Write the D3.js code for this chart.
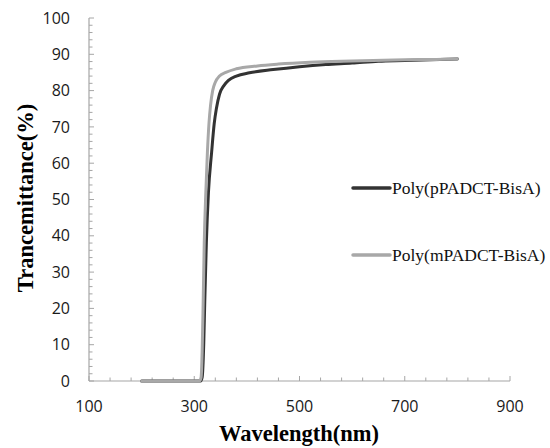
<!DOCTYPE html>
<html>
<head>
<meta charset="utf-8">
<script src="https://cdn.jsdelivr.net/npm/d3@7"></script>
<style>
  body { margin: 0; background: #fff; }
  svg { display: block; }
</style>
</head>
<body>
<svg width="550" height="448"></svg>
<script>
// transmittance spectra
var seriesNames = ["Poly(pPADCT-BisA)", "Poly(mPADCT-BisA)"];
var seriesColors = ["#333333", "#a8a8a8"];

var pWave = [200, 250, 300, 312, 315, 318, 320, 323, 327, 333, 338, 342, 348, 356, 365, 380, 405, 450, 500, 550, 600, 650, 700, 750, 800];
var pTrans = [0, 0, 0, 0, 1, 10, 22, 38, 52, 63, 71, 75, 79, 81.3, 82.8, 84, 84.9, 85.8, 86.6, 87.2, 87.6, 88.1, 88.3, 88.5, 88.7];

var mWave = [200, 250, 300, 310, 313, 315, 317, 319, 322, 325, 328, 331, 335, 340, 348, 360, 380, 420, 460, 520, 580, 640, 700, 760, 800];
var mTrans = [0, 0, 0, 0, 1, 8, 22, 38, 52, 63, 71, 76, 80, 82.3, 84, 85, 86, 86.8, 87.3, 87.8, 88.1, 88.3, 88.5, 88.6, 88.7];

var xTicks = [100, 300, 500, 700, 900];
var yTicks = [0, 10, 20, 30, 40, 50, 60, 70, 80, 90, 100];

var svg = d3.select("svg");
var plotL = 89, plotR = 510, plotT = 18, plotB = 381;

var x = d3.scaleLinear().domain([100, 900]).range([plotL, plotR]);
var y = d3.scaleLinear().domain([0, 100]).range([plotB, plotT]);

var axisColor = "#a6a6a6";
var g = svg.append("g");

// minor ticks (inside)
g.selectAll(".xminor").data(d3.range(100, 901, 40)).enter().append("line")
    .attr("x1", function(d) { return x(d); }).attr("x2", function(d) { return x(d); })
    .attr("y1", plotB).attr("y2", function(d) { return xTicks.indexOf(d) >= 0 ? plotB - 5 : plotB - 3.5; })
    .attr("stroke", axisColor);
g.selectAll(".yminor").data(d3.range(0, 101, 2)).enter().append("line")
    .attr("y1", function(d) { return y(d); }).attr("y2", function(d) { return y(d); })
    .attr("x1", plotL).attr("x2", function(d) { return d % 10 === 0 ? plotL + 5 : plotL + 3.5; })
    .attr("stroke", axisColor);

// axis lines
g.append("line").attr("x1", plotL).attr("x2", plotL).attr("y1", y(100)).attr("y2", plotB)
    .attr("stroke", axisColor).attr("stroke-width", 1.2);
g.append("line").attr("x1", plotL).attr("x2", plotR).attr("y1", plotB).attr("y2", plotB)
    .attr("stroke", axisColor).attr("stroke-width", 1.2);

// tick labels
svg.selectAll(".ylab").data(yTicks).enter().append("text")
    .attr("x", 70).attr("y", function(d) { return y(d); })
    .attr("dy", "0.35em").attr("text-anchor", "end")
    .style("font", "16px 'Open Sans', sans-serif").attr("fill", "#1a1a1a")
    .text(function(d) { return d; });
svg.selectAll(".xlab").data(xTicks).enter().append("text")
    .attr("x", function(d) { return x(d); }).attr("y", 406)
    .attr("dy", "0.35em").attr("text-anchor", "middle")
    .style("font", "16px 'Open Sans', sans-serif").attr("fill", "#1a1a1a")
    .text(function(d) { return d; });

// axis titles
svg.append("text").attr("x", 299).attr("y", 441).attr("text-anchor", "middle")
    .style("font", "bold 22.5px 'Liberation Serif', 'Times New Roman', serif")
    .text("Wavelength(nm)");
svg.append("text").attr("transform", "translate(33,198) rotate(-90)").attr("text-anchor", "middle")
    .style("font", "bold 22.5px 'Liberation Serif', 'Times New Roman', serif")
    .text("Trancemittance(%)");

// curves
var line = d3.line()
    .x(function(d) { return x(d[0]); })
    .y(function(d) { return y(d[1]); })
    .curve(d3.curveMonotoneX);

var series = [d3.zip(pWave, pTrans), d3.zip(mWave, mTrans)];
svg.selectAll(".curve").data(series).enter().append("path")
    .attr("d", line)
    .attr("fill", "none")
    .attr("stroke", function(d, i) { return seriesColors[i]; })
    .attr("stroke-width", 3)
    .attr("stroke-linecap", "round")
    .attr("stroke-linejoin", "round");

// legend
var legY = [188, 255];
var leg = svg.selectAll(".leg").data(seriesNames).enter().append("g");
leg.append("line")
    .attr("x1", 353).attr("x2", 390)
    .attr("y1", function(d, i) { return legY[i]; }).attr("y2", function(d, i) { return legY[i]; })
    .attr("stroke", function(d, i) { return seriesColors[i]; })
    .attr("stroke-width", 3.5).attr("stroke-linecap", "round");
leg.append("text")
    .attr("x", 392).attr("y", function(d, i) { return legY[i]; }).attr("dy", "0.32em")
    .style("font", "17.5px 'Liberation Serif', 'Times New Roman', serif").attr("fill", "#111")
    .text(function(d) { return d; });
</script>
</body>
</html>
